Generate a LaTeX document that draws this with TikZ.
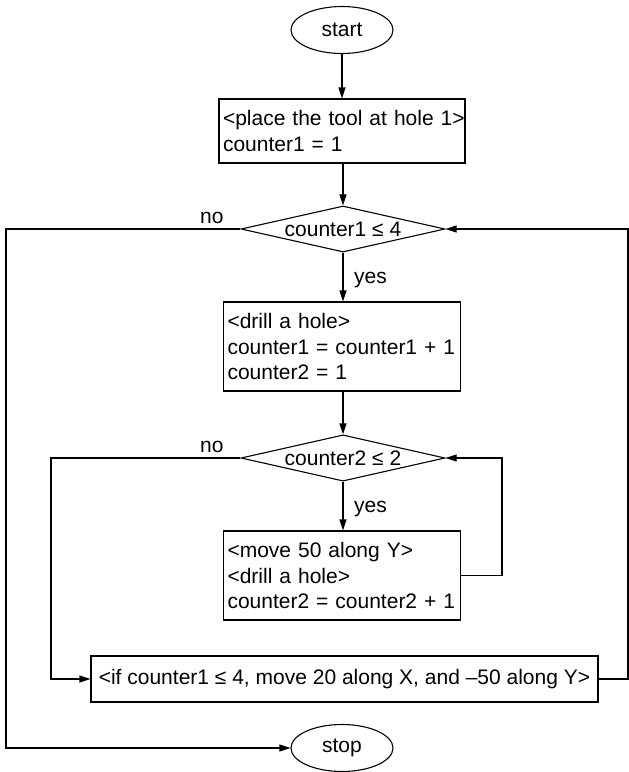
\documentclass[tikz,border=0pt]{standalone}
\usepackage{fontspec}
\setmainfont{Liberation Sans}
\usetikzlibrary{arrows.meta,shapes.geometric}
\begin{document}
\begin{tikzpicture}[x=1pt,y=-1pt,
  every node/.style={font=\fontsize{21}{25.5}\selectfont},
  line/.style={line width=1.1pt},
  flow/.style={line, -{Triangle[length=11pt,width=7pt]}},
  terminal/.style={draw, line, ellipse, inner sep=0pt, minimum width=102pt, minimum height=47pt},
  stepbox/.style={draw, line, rectangle, align=left, inner xsep=4pt, inner ysep=0pt},
  test/.style={draw, line, diamond, aspect=4.4, inner sep=2pt, minimum width=204pt, minimum height=46pt},
  tag/.style={anchor=base west, inner sep=0pt}]
\useasboundingbox (0,0) rectangle (629,772);

% main column
\node[terminal] (start) at (342,30) {start};
\node[stepbox, text width=238pt, minimum height=64pt] (init) at (342,131)
  {\mbox{<place the tool at hole 1>}\\counter1 = 1};
\node[test] (outer) at (343,229) {counter1 ≤ 4};
\node[stepbox, text width=229pt, minimum height=89pt] (drill) at (342,346.5)
  {<drill a hole>\\\mbox{counter1 = counter1 + 1}\\counter2 = 1};
\node[test] (inner) at (343,458) {counter2 ≤ 2};
\node[stepbox, text width=229pt, minimum height=89pt] (move) at (342,575.5)
  {<move 50 along Y>\\<drill a hole>\\\mbox{counter2 = counter2 + 1}};
\node[draw, line, rectangle, inner sep=0pt, minimum width=507pt, minimum height=46pt] (next) at (344.5,679)
  {<if counter1 ≤ 4, move 20 along X, and –50 along Y>};
\node[terminal] (stop) at (342,748) {stop};

% branch labels
\node[tag] (no1) at (200,223) {no};
\node[tag] (yes1) at (354,283) {yes};
\node[tag] (no2) at (200,452) {no};
\node[tag] (yes2) at (354,512) {yes};

% routing columns
\coordinate (farL) at (6,0);
\coordinate (midL) at (51,0);
\coordinate (loopR) at (502,0);
\coordinate (farR) at (628,0);

% straight flow
\draw[flow] (start.south) -- (start.south |- init.north);
\draw[flow] (init.south) -- (init.south -| outer.north) -- (outer.north);
\draw[flow] (outer.south) -- (outer.south |- drill.north);
\draw[flow] (drill.south) -- (drill.south -| inner.north) -- (inner.north);
\draw[flow] (inner.south) -- (inner.south |- move.north);

% loops and exits
\draw[flow] (inner.west) -| (midL |- next.west) -- (next.west);
\draw[flow] (move.east) -| (loopR |- inner.east) -- (inner.east);
\draw[flow] (next.east) -| (farR |- outer.east) -- (outer.east);
\draw[flow] (outer.west) -| (farL |- stop.west) -- (stop.west);
\end{tikzpicture}
\end{document}
